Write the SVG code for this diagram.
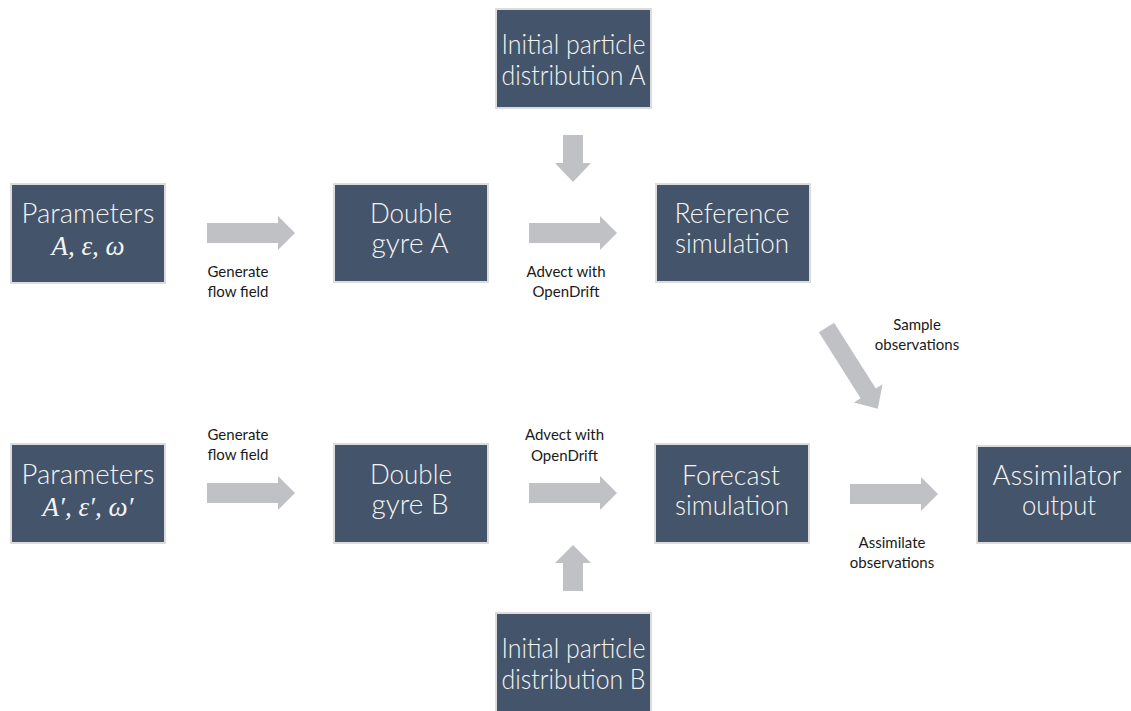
<svg xmlns="http://www.w3.org/2000/svg" xmlns:xlink="http://www.w3.org/1999/xlink" width="1131" height="711" viewBox="0 0 1131 711">
<style>
.box{fill:#44546A;stroke:#DCDCDC;stroke-width:2}
.bt{font-family:Lato,"Open Sans",sans-serif;font-weight:300;font-size:27px;fill:#F4F4F4;text-anchor:middle}
.mt{font-family:"Liberation Serif","DejaVu Serif",serif;font-style:italic;font-size:27px;fill:#F4F4F4;text-anchor:middle}
.lb{font-family:Lato,"Open Sans",sans-serif;font-weight:400;font-size:15px;fill:#1A1A1A;text-anchor:middle}
.ar{fill:#BFC1C4}
</style>
<defs>
<path id="rarr" d="M0,-10 H71 V-17 L88,0 L71,17 V10 H0 Z"/>
</defs>
<rect width="1131" height="711" fill="#FFFFFF"/>
<g id="connectors">
<use xlink:href="#rarr" class="ar" x="207" y="233"/>
<use xlink:href="#rarr" class="ar" x="529" y="233"/>
<use xlink:href="#rarr" class="ar" x="207" y="493"/>
<use xlink:href="#rarr" class="ar" x="529" y="493"/>
<use xlink:href="#rarr" class="ar" x="850" y="494"/>
<path class="ar" d="M563,135 H583 V163 H591 L573,182 L555,163 H563 Z"/>
<path class="ar" d="M563,591 H583 V563 H591 L573,545 L555,563 H563 Z"/>
<path class="ar" transform="translate(826.5,327.5) rotate(57.7)" d="M0,-9 H78 V-17 L96,0 L78,17 V9 H0 Z"/>
<text class="lb" x="238" y="277">Generate</text>
<text class="lb" x="238" y="297">flow field</text>
<text class="lb" x="566" y="277">Advect with</text>
<text class="lb" x="566" y="297">OpenDrift</text>
<text class="lb" x="917" y="330">Sample</text>
<text class="lb" x="917" y="350">observations</text>
<text class="lb" x="238" y="440">Generate</text>
<text class="lb" x="238" y="460">flow field</text>
<text class="lb" x="564.5" y="440">Advect with</text>
<text class="lb" x="564.5" y="461">OpenDrift</text>
<text class="lb" x="892" y="548">Assimilate</text>
<text class="lb" x="892" y="568">observations</text>
</g>
<g id="initA">
<rect class="box" x="496" y="9" width="155" height="99"/>
<text class="bt" x="573.5" y="54" textLength="144" lengthAdjust="spacingAndGlyphs">Initial particle</text>
<text class="bt" x="573.5" y="85" textLength="144" lengthAdjust="spacingAndGlyphs">distribution A</text>
</g>
<g id="paramsA">
<rect class="box" x="11" y="184" width="154" height="99"/>
<text class="bt" x="88" y="223" textLength="133" lengthAdjust="spacingAndGlyphs">Parameters</text>
<text class="mt" x="88" y="255">A, ε, ω</text>
</g>
<g id="gyreA">
<rect class="box" x="334" y="184" width="154" height="98"/>
<text class="bt" x="411" y="223" textLength="82" lengthAdjust="spacingAndGlyphs">Double</text>
<text class="bt" x="410" y="253" textLength="77" lengthAdjust="spacingAndGlyphs">gyre A</text>
</g>
<g id="refSim">
<rect class="box" x="656" y="184" width="154" height="98"/>
<text class="bt" x="732" y="223" textLength="115" lengthAdjust="spacingAndGlyphs">Reference</text>
<text class="bt" x="732" y="253" textLength="114" lengthAdjust="spacingAndGlyphs">simulation</text>
</g>
<g id="paramsB">
<rect class="box" x="11" y="444" width="154" height="99"/>
<text class="bt" x="88" y="484" textLength="133" lengthAdjust="spacingAndGlyphs">Parameters</text>
<text class="mt" x="88" y="516">A′, ε′, ω′</text>
</g>
<g id="gyreB">
<rect class="box" x="334" y="444" width="154" height="99"/>
<text class="bt" x="411" y="484" textLength="82" lengthAdjust="spacingAndGlyphs">Double</text>
<text class="bt" x="410" y="514" textLength="77" lengthAdjust="spacingAndGlyphs">gyre B</text>
</g>
<g id="fcstSim">
<rect class="box" x="655" y="444" width="154" height="99"/>
<text class="bt" x="731" y="485" textLength="98" lengthAdjust="spacingAndGlyphs">Forecast</text>
<text class="bt" x="732" y="515" textLength="114" lengthAdjust="spacingAndGlyphs">simulation</text>
</g>
<g id="assim">
<rect class="box" x="977" y="446" width="155" height="97"/>
<text class="bt" x="1057" y="485" textLength="129" lengthAdjust="spacingAndGlyphs">Assimilator</text>
<text class="bt" x="1059" y="515" textLength="74" lengthAdjust="spacingAndGlyphs">output</text>
</g>
<g id="initB">
<rect class="box" x="496" y="613" width="155" height="99"/>
<text class="bt" x="573.5" y="658" textLength="144" lengthAdjust="spacingAndGlyphs">Initial particle</text>
<text class="bt" x="573.5" y="689" textLength="144" lengthAdjust="spacingAndGlyphs">distribution B</text>
</g>
</svg>
